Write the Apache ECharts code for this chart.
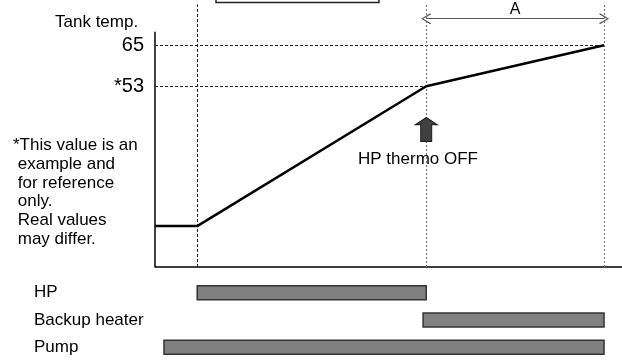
<!DOCTYPE html>
<html>
<head>
<meta charset="utf-8">
<script src="https://cdn.jsdelivr.net/npm/echarts@6/dist/echarts.min.js"></script>
<style>
html,body{margin:0;padding:0;background:#fff;}
#chart{width:622px;height:361px;}
</style>
</head>
<body>
<div id="chart"></div>
<script>
// ---- data ----
const tempTimes = [0, 9.4, 60.4, 100];
const tempValues = [12, 12, 53, 65];
const yTickValues = [53, 65];
const yTickLabels = ['*53', '65'];
const heatStart = 9.4;
const thermoOff = 60.4;
const endTime = 100;
const devices = ['HP', 'Backup heater', 'Pump'];
const devStart = [9.4, 59.7, 2];
const devEnd = [60.4, 100, 100];
const noteLines = ['*This value is an', ' example and', ' for reference', ' only.', ' Real values', ' may differ.'];

const FONT = 'Liberation Sans, Arial, sans-serif';
const xMax = 104, yMax = 78;

const chart = echarts.init(document.getElementById('chart'), null, {renderer: 'canvas'});

const dashDark = {type: [3, 2], color: '#222', width: 1};
const dashGrey = {type: [2, 2], color: '#777', width: 1.2};
const chevron = 'path://M5,0 L10,9 L9,10 L5,2 L1,10 L0,9 Z';

const option = {
  animation: false,
  backgroundColor: '#fff',
  grid: [
    {left: 155, right: 0, top: 1, bottom: 94},
    {left: 155, right: 0, top: 279, bottom: -3}
  ],
  xAxis: [
    {type: 'value', gridIndex: 0, min: 0, max: xMax,
     axisLine: {show: true, lineStyle: {color: '#000', width: 1.5}},
     axisTick: {show: false}, axisLabel: {show: false}, splitLine: {show: false}},
    {type: 'value', gridIndex: 1, min: 0, max: xMax, show: false}
  ],
  yAxis: [
    {type: 'value', gridIndex: 0, min: 0, max: yMax,
     axisLine: {show: false}, axisTick: {show: false}, splitLine: {show: false},
     axisLabel: {show: true, customValues: yTickValues, margin: 11,
       fontFamily: FONT, fontSize: 20, color: '#000',
       formatter: v => yTickLabels[yTickValues.indexOf(v)] || ''}},
    {type: 'category', gridIndex: 1, data: devices, inverse: true,
     axisLine: {show: false}, axisTick: {show: false}, splitLine: {show: false},
     axisLabel: {show: true, align: 'left', margin: 121, fontFamily: FONT, fontSize: 17, color: '#000',
       padding: [6, 0, 0, 0]}}
  ],
  series: [
    {
      type: 'line', xAxisIndex: 0, yAxisIndex: 0, z: 5,
      data: tempTimes.map((t, i) => [t, tempValues[i]]),
      symbol: 'none',
      lineStyle: {color: '#000', width: 2.5},
      markLine: {
        silent: true, symbol: 'none', animation: false,
        label: {show: false},
        data: [
          [{coord: [0, 0], lineStyle: {type: 'solid', color: '#000', width: 1.5}}, {coord: [0, 69]}],
          [{coord: [0, 65], lineStyle: dashDark}, {coord: [endTime, 65]}],
          [{coord: [0, 53], lineStyle: dashDark}, {coord: [thermoOff, 53]}],
          [{coord: [heatStart, 0], lineStyle: dashDark}, {coord: [heatStart, 77]}],
          [{coord: [thermoOff, 0], lineStyle: dashGrey}, {coord: [thermoOff, 77]}],
          [{coord: [endTime, 0], lineStyle: dashGrey}, {coord: [endTime, 77]}],
          [{coord: [thermoOff, 72.8], symbol: chevron, symbolSize: [11, 10],
            lineStyle: {type: 'solid', color: '#555', width: 1},
            label: {show: true, position: 'middle', formatter: 'A', fontFamily: FONT, fontSize: 16, color: '#000', distance: 1}},
           {coord: [endTime, 72.8], symbol: chevron, symbolSize: [11, 10]}]
        ]
      },
      markPoint: {
        silent: true, animation: false,
        data: [{coord: [thermoOff, 40.3], symbol: 'path://M11,0 L22,7 L16.5,7 L16.5,23.5 L5.5,23.5 L5.5,7 L0,7 Z',
          symbolSize: [22, 24], itemStyle: {color: '#404040', borderColor: '#1a1a1a', borderWidth: 1}, label: {show: false}}]
      }
    },
    {
      type: 'custom', xAxisIndex: 1, yAxisIndex: 1,
      data: devices.map((d, i) => [i, devStart[i], devEnd[i]]),
      encode: {x: [1, 2], y: 0},
      renderItem: function (params, api) {
        const s = api.coord([api.value(1), api.value(0)]);
        const e = api.coord([api.value(2), api.value(0)]);
        const h = 14;
        return {
          type: 'rect',
          shape: {x: s[0], y: s[1] - h / 2, width: e[0] - s[0], height: h},
          style: {fill: '#808080', stroke: '#333', lineWidth: 1.5}
        };
      }
    }
  ],
  graphic: [
    {type: 'rect', shape: {x: 216, y: -10, width: 163, height: 12.5},
     style: {fill: 'none', stroke: '#222', lineWidth: 1.5}},
    {type: 'text', x: 55, y: 22.3,
     style: {text: 'Tank temp.', font: '17px ' + FONT, fill: '#000', verticalAlign: 'middle'}},
    {type: 'text', x: 13, y: 136,
     style: {text: noteLines.join('\n'), font: '17px ' + FONT, fill: '#000', lineHeight: 18.8, verticalAlign: 'top'}},
    {type: 'text', x: 418, y: 159.5,
     style: {text: 'HP thermo OFF', font: '17px ' + FONT, fill: '#000', align: 'center', verticalAlign: 'middle'}}
  ]
};
chart.setOption(option);
</script>
</body>
</html>
